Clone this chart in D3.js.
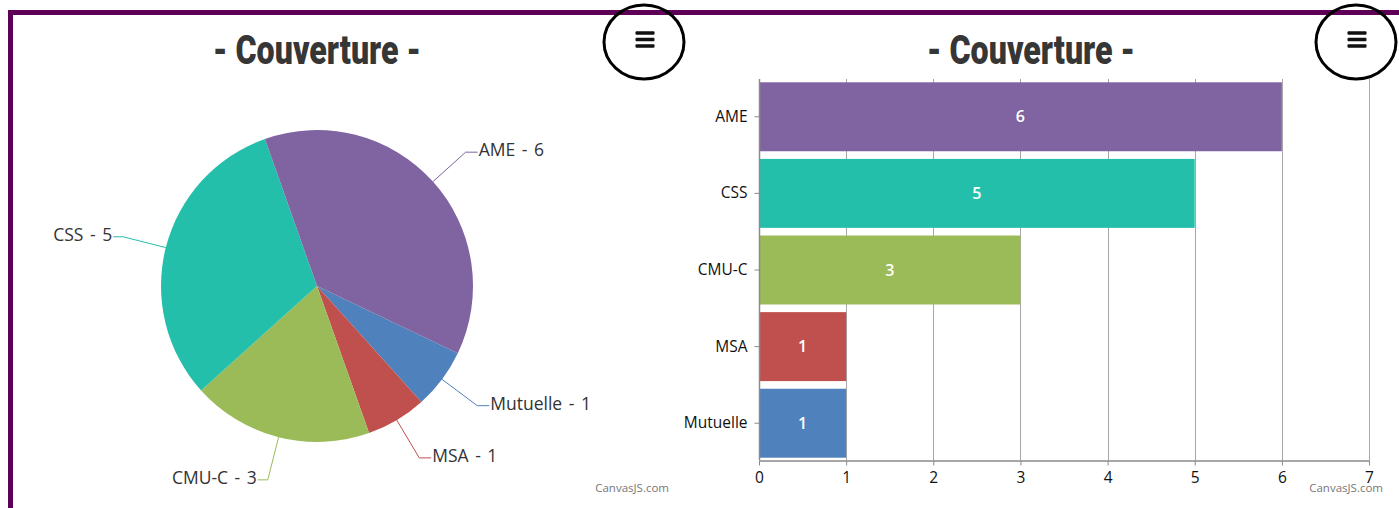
<!DOCTYPE html>
<html>
<head>
<meta charset="utf-8">
<script src="https://cdn.jsdelivr.net/npm/d3@7"></script>
<style>
  html, body { margin: 0; padding: 0; background: #fff; overflow: hidden; }
  svg { display: block; }
  .lbl { font-family: "Open Sans", Lato, sans-serif; }
</style>
</head>
<body>
<div id="svgcontainer"></div>
<script>
// data (CanvasJS order: first point at the bottom of the bar chart)
let categories = ["Mutuelle", "MSA", "CMU-C", "CSS", "AME"];
let values = [1, 1, 3, 5, 6];
let colors = ["#4F81BC", "#C0504E", "#9BBB58", "#23BFAA", "#8064A1"];
let xTicks = [0, 1, 2, 3, 4, 5, 6, 7];
let title = "- Couverture -";

let width = 1399;
let height = 508;

let svg = d3.select("#svgcontainer")
    .append('svg')
    .attr('width', width)
    .attr('height', height);

// purple frame of the page
svg.append('rect')
    .attr('x', 10.5)
    .attr('y', 12.5)
    .attr('width', 1500)
    .attr('height', 600)
    .attr('fill', 'none')
    .attr('stroke', '#5e0056')
    .attr('stroke-width', 5);

function drawTitle(cx) {
    svg.append('text')
        .attr('x', cx)
        .attr('y', 64)
        .attr('text-anchor', 'middle')
        .attr('textLength', 208)
        .attr('lengthAdjust', 'spacingAndGlyphs')
        .style('font-family', 'Roboto, "Open Sans", sans-serif')
        .style('font-weight', 900)
        .style('font-size', '40px')
        .style('fill', '#363636')
        .text(title);
}

function drawMenu(cx) {
    let g = svg.append('g').attr('transform', 'translate(' + cx + ',0)');
    [33, 39.5, 46].forEach(function (yy) {
        g.append('rect')
            .attr('x', -9.5)
            .attr('y', yy - 1.75)
            .attr('width', 19)
            .attr('height', 3.5)
            .attr('rx', 1)
            .attr('fill', '#111');
    });
    g.append('ellipse')
        .attr('cx', -1)
        .attr('cy', 42)
        .attr('rx', 40)
        .attr('ry', 37)
        .attr('fill', 'none')
        .attr('stroke', '#000')
        .attr('stroke-width', 3);
}

function drawCredit(xEnd) {
    svg.append('text')
        .attr('class', 'lbl')
        .attr('x', xEnd)
        .attr('y', 492)
        .attr('text-anchor', 'end')
        .style('font-size', '11.5px')
        .style('fill', '#777')
        .text('CanvasJS.com');
}

// ---------- pie chart ----------
let pieData = categories.map((c, i) => ({ name: c, value: values[i], color: colors[i] }));
let cx = 317, cy = 286, r = 156;
let start = 115.5 * Math.PI / 180;
let pie = d3.pie()
    .sort(null)
    .value(d => d.value)
    .startAngle(start)
    .endAngle(start + 2 * Math.PI);
let arc = d3.arc().innerRadius(0).outerRadius(r);

let pieG = svg.append('g').attr('transform', 'translate(' + cx + ',' + cy + ')');
let slices = pie(pieData);
pieG.selectAll('path.slice')
    .data(slices)
    .enter()
    .append('path')
    .attr('class', 'slice')
    .attr('d', arc)
    .attr('fill', d => d.data.color);

slices.forEach(function (s) {
    let a = (s.startAngle + s.endAngle) / 2;
    let p0 = [r * Math.sin(a), -r * Math.cos(a)];
    let re = r + 44;
    let p1 = [re * Math.sin(a), -re * Math.cos(a)];
    let right = Math.sin(a) > 0;
    let p2 = [p1[0] + (right ? 12 : -10), p1[1]];
    pieG.append('polyline')
        .attr('points', [p0, p1, p2].map(p => p.join(',')).join(' '))
        .attr('fill', 'none')
        .attr('stroke', s.data.color)
        .attr('stroke-width', 1);
    pieG.append('text')
        .attr('class', 'lbl')
        .attr('x', p2[0] + (right ? 1 : -1))
        .attr('y', p2[1] - 2)
        .attr('dy', '0.35em')
        .attr('text-anchor', right ? 'start' : 'end')
        .style('font-size', '17.5px')
        .style('word-spacing', '2px')
        .style('fill', '#333')
        .text(s.data.name + ' - ' + s.data.value);
});

drawTitle(317);
drawCredit(669);

// ---------- bar chart ----------
let plot = { left: 759, right: 1369, top: 80, bottom: 460 };
let x = d3.scaleLinear()
    .domain([0, 7])
    .range([plot.left, plot.right]);
let y = d3.scaleBand()
    .domain(categories.slice().reverse())
    .range([plot.top, plot.bottom])
    .paddingInner(0.1)
    .paddingOuter(0.03);

// vertical grid
svg.append('g')
    .selectAll('line')
    .data(xTicks.slice(1))
    .enter()
    .append('line')
    .attr('x1', d => Math.round(x(d)) + 0.5)
    .attr('x2', d => Math.round(x(d)) + 0.5)
    .attr('y1', plot.top - 1)
    .attr('y2', plot.bottom)
    .attr('stroke', '#a8a8a8')
    .attr('stroke-width', 1);

svg.append('g')
    .selectAll('rect')
    .data(pieData)
    .enter()
    .append('rect')
    .attr('x', x(0) + 1)
    .attr('y', d => y(d.name))
    .attr('width', d => x(d.value) - x(0) - 1)
    .attr('height', y.bandwidth())
    .attr('fill', d => d.color);

svg.append('g')
    .selectAll('text')
    .data(pieData)
    .enter()
    .append('text')
    .attr('class', 'lbl')
    .attr('x', d => (x(0) + x(d.value)) / 2)
    .attr('y', d => y(d.name) + y.bandwidth() / 2)
    .attr('dy', '0.35em')
    .attr('text-anchor', 'middle')
    .style('font-size', '16px')
    .style('font-weight', 600)
    .style('fill', '#fff')
    .text(d => d.value);

let xAxis = svg.append('g')
    .attr('transform', 'translate(0,' + (plot.bottom + 0.5) + ')')
    .call(d3.axisBottom(x).tickValues(xTicks).tickFormat(d3.format('d')).tickSize(5).tickPadding(6).tickSizeOuter(0));
let yAxis = svg.append('g')
    .attr('transform', 'translate(' + (plot.left + 0.5) + ',0)')
    .call(d3.axisLeft(y).tickSize(5).tickPadding(7).tickSizeOuter(0));

[xAxis, yAxis].forEach(function (ax) {
    ax.selectAll('path.domain').attr('stroke', '#8a8a8a').attr('stroke-width', 1.5);
    ax.selectAll('.tick line').attr('stroke', '#8a8a8a');
    ax.selectAll('.tick text')
        .attr('class', 'lbl')
        .style('font-size', '15.5px')
        .style('fill', '#111');
});
yAxis.select('path.domain').attr('d', 'M0,' + (plot.top - 1) + 'V' + plot.bottom);

drawTitle(1031);
drawCredit(1383);

drawMenu(645);
drawMenu(1357);
</script>
</body>
</html>
